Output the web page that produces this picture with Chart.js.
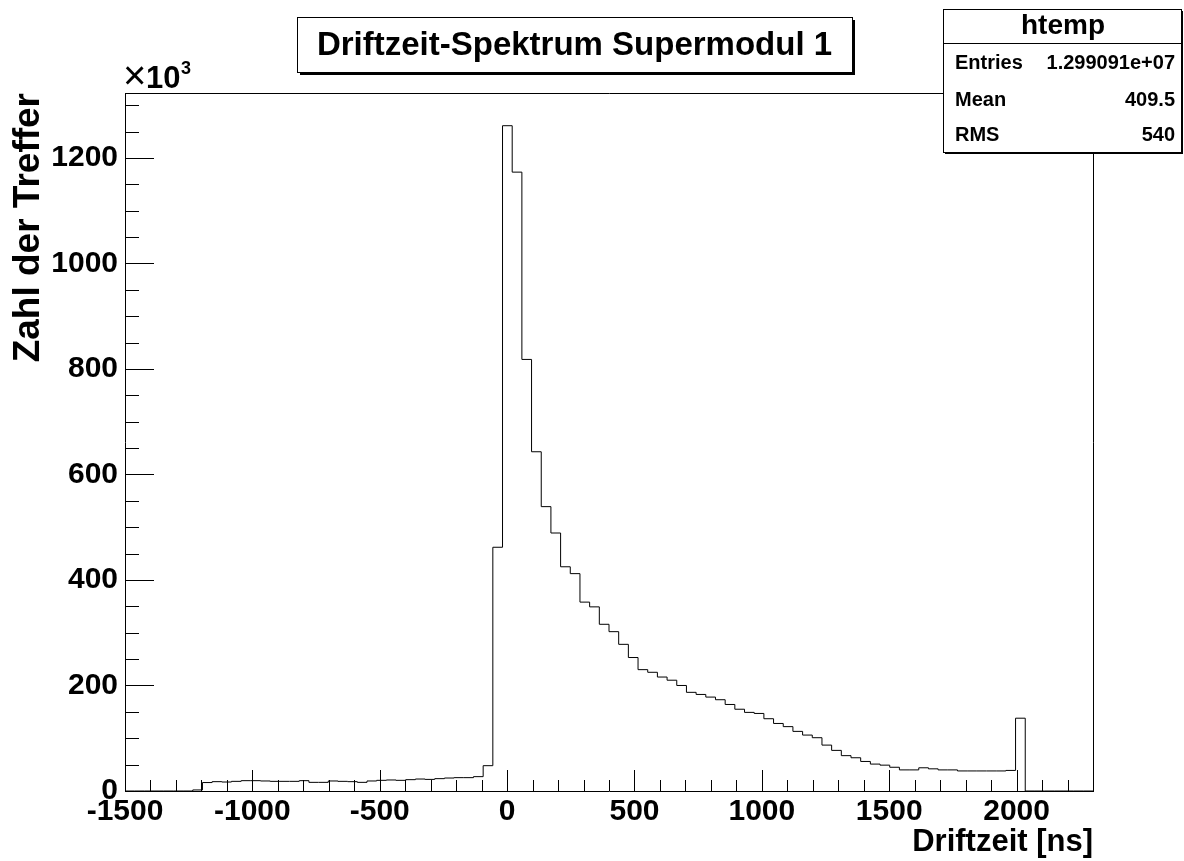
<!DOCTYPE html>
<html>
<head>
<meta charset="utf-8">
<script src="https://cdn.jsdelivr.net/npm/chart.js@4/dist/chart.umd.min.js"></script>
<style>
  html, body { margin: 0; padding: 0; background: #fff; }
  #wrap { width: 1184px; height: 861px; }
</style>
</head>
<body>
<div id="wrap"><canvas id="myChart" width="1184" height="861"></canvas></div>
<script>
// histogram definition (100 bins of 38 ns starting at -1500 ns)
const binStart = -1500
const binWidth = 38
// bin contents in units of 10^3 hits
const counts = [
  0, 0, 0, 0, 0, 0, 0, 2, 16, 17.7,
  17, 18.3, 19.6, 19.6, 19, 18.3, 18.3, 18.3, 19.6, 16.4,
  16.4, 19, 18.3, 17.7, 16.4, 19, 20.2, 20.9, 20.2, 21.5,
  22.7, 22, 23.4, 24.6, 25.3, 25.3, 27.2, 48, 462, 1261,
  1173, 818, 643, 539, 489, 425, 412, 358, 349, 316,
  302, 278, 253, 230, 225, 216, 210, 200, 187, 183,
  178, 173, 164, 155, 149, 147, 137, 128, 122, 113,
  106, 101, 87, 77, 67, 63, 56, 51, 49, 45,
  40, 40, 44, 42, 40, 40, 38, 38, 38, 38,
  38, 39, 138, 0, 0, 0, 0, 0, 0, 0
]
const xTicks = [-1500, -1000, -500, 0, 500, 1000, 1500, 2000]
const xMinorTicks = [-1500, -1400, -1300, -1200, -1100, -1000, -900, -800, -700, -600, -500, -400, -300, -200, -100,
  0, 100, 200, 300, 400, 500, 600, 700, 800, 900, 1000, 1100, 1200, 1300, 1400, 1500, 1600, 1700, 1800, 1900,
  2000, 2100, 2200, 2300]
const yTicks = [0, 200, 400, 600, 800, 1000, 1200]
const yMinorTicks = [0, 50, 100, 150, 200, 250, 300, 350, 400, 450, 500, 550, 600, 650, 700, 750, 800, 850,
  900, 950, 1000, 1050, 1100, 1150, 1200, 1250, 1300]
const xRange = [-1500, 2300]
const yRange = [0, 1323]

const titleText = 'Driftzeit-Spektrum Supermodul 1'
const statsName = 'htemp'
const statsRows = [['Entries', '1.299091e+07'], ['Mean', '409.5'], ['RMS', '540']]

const FONT = '"Liberation Sans", Arial, Helvetica, sans-serif'

// step outline: one point per lower bin edge, plus the upper end of the range
const points = counts.map((c, i) => ({ x: binStart + i * binWidth, y: c }))
points.push({ x: binStart + counts.length * binWidth, y: 0 })

// ROOT-style decorations: inner ticks, frame, title box, stats box
const rootDecor = {
  id: 'rootDecor',
  afterDraw(chart) {
    const { ctx, chartArea: a, scales: { x, y } } = chart
    ctx.save()
    ctx.strokeStyle = '#000'
    ctx.lineWidth = 1

    // frame (top and right)
    ctx.beginPath()
    ctx.moveTo(a.left, Math.round(a.top) + 0.5)
    ctx.lineTo(Math.round(a.right) + 0.5, Math.round(a.top) + 0.5)
    ctx.lineTo(Math.round(a.right) + 0.5, a.bottom)
    ctx.stroke()

    // ticks pointing into the plot
    ctx.beginPath()
    xMinorTicks.forEach(v => {
      const px = Math.round(x.getPixelForValue(v)) + 0.5
      const len = xTicks.includes(v) ? 21 : 11
      ctx.moveTo(px, a.bottom)
      ctx.lineTo(px, a.bottom - len)
    })
    yMinorTicks.forEach(v => {
      const py = Math.round(y.getPixelForValue(v)) + 0.5
      const len = yTicks.includes(v) ? 29 : 14
      ctx.moveTo(a.left, py)
      ctx.lineTo(a.left + len, py)
    })
    ctx.stroke()

    // x10^3 multiplier
    ctx.fillStyle = '#000'
    ctx.textBaseline = 'alphabetic'
    ctx.textAlign = 'left'
    ctx.font = '40px ' + FONT
    ctx.fillText('\u00d7', a.left - 2, 89)
    ctx.font = 'bold 31px ' + FONT
    ctx.fillText('10', 146, 88)
    ctx.font = 'bold 18px ' + FONT
    ctx.fillText('3', 181, 74)

    // title box with shadow
    const tb = { l: 297, t: 17, r: 852, b: 72 }
    ctx.fillStyle = '#000'
    ctx.fillRect(tb.l + 3, tb.t + 3, tb.r - tb.l, tb.b - tb.t)
    ctx.fillStyle = '#fff'
    ctx.fillRect(tb.l, tb.t, tb.r - tb.l, tb.b - tb.t)
    ctx.strokeRect(tb.l + 0.5, tb.t + 0.5, tb.r - tb.l, tb.b - tb.t)
    ctx.fillStyle = '#000'
    ctx.font = 'bold 33px ' + FONT
    ctx.textAlign = 'center'
    ctx.textBaseline = 'middle'
    ctx.fillText(titleText, (tb.l + tb.r) / 2, (tb.t + tb.b) / 2 + 1)

    // stats box
    const sb = { l: 943, t: 9, r: 1181, b: 152 }
    ctx.fillRect(sb.l + 2, sb.t + 2, sb.r - sb.l, sb.b - sb.t)
    ctx.fillStyle = '#fff'
    ctx.fillRect(sb.l, sb.t, sb.r - sb.l, sb.b - sb.t)
    ctx.strokeRect(sb.l + 0.5, sb.t + 0.5, sb.r - sb.l, sb.b - sb.t)
    ctx.beginPath()
    ctx.moveTo(sb.l, 43.5)
    ctx.lineTo(sb.r, 43.5)
    ctx.stroke()
    ctx.fillStyle = '#000'
    ctx.font = 'bold 28px ' + FONT
    ctx.fillText(statsName, 1063, 26)
    ctx.font = 'bold 20px ' + FONT
    const rowY = [63, 100, 135]
    statsRows.forEach((row, i) => {
      ctx.textAlign = 'left'
      ctx.fillText(row[0], 955, rowY[i])
      ctx.textAlign = 'right'
      ctx.fillText(row[1], 1175, rowY[i])
    })
    ctx.restore()
  }
}

const ctx = document.getElementById('myChart')
// eslint-disable-next-line no-unused-vars
const myChart = new Chart(ctx, {
  type: 'line',
  data: {
    datasets: [{
      label: statsName,
      data: points,
      stepped: 'before',
      borderColor: '#000',
      borderWidth: 1,
      pointRadius: 0,
      fill: false
    }]
  },
  options: {
    responsive: false,
    animation: false,
    layout: { padding: { top: 93, right: 91, left: 0, bottom: 0 } },
    plugins: {
      legend: { display: false },
      tooltip: { enabled: false }
    },
    scales: {
      x: {
        type: 'linear',
        min: xRange[0],
        max: xRange[1],
        afterBuildTicks: scale => { scale.ticks = xTicks.map(v => ({ value: v })) },
        afterFit: scale => { scale.height = 70 },
        grid: { display: false, drawTicks: false },
        border: { display: true, color: '#000', width: 1 },
        ticks: {
          color: '#000',
          padding: 3,
          maxRotation: 0,
          autoSkip: false,
          callback: value => String(value),
          font: { family: FONT, size: 30, weight: 'bold' }
        },
        title: {
          display: true,
          text: 'Driftzeit [ns]',
          align: 'end',
          color: '#000',
          padding: { top: 0, bottom: 0 },
          font: { family: FONT, size: 31, weight: 'bold' }
        }
      },
      y: {
        type: 'linear',
        min: yRange[0],
        max: yRange[1],
        afterBuildTicks: scale => { scale.ticks = yTicks.map(v => ({ value: v })) },
        afterFit: scale => { scale.width = 125 },
        grid: { display: false, drawTicks: false },
        border: { display: true, color: '#000', width: 1 },
        ticks: {
          color: '#000',
          padding: 7,
          callback: value => String(value),
          font: { family: FONT, size: 30, weight: 'bold' }
        },
        title: {
          display: true,
          text: 'Zahl der Treffer',
          align: 'end',
          color: '#000',
          padding: { top: 7, bottom: 0 },
          font: { family: FONT, size: 37, weight: 'bold' }
        }
      }
    }
  },
  plugins: [rootDecor]
})
</script>
</body>
</html>
